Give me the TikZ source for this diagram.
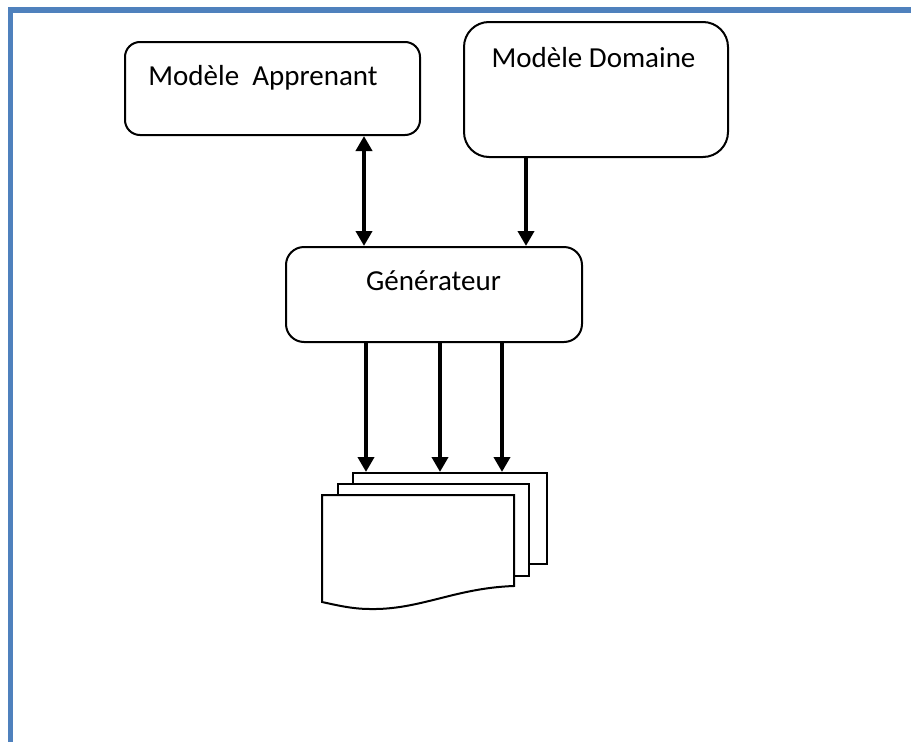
\documentclass[tikz,border=0pt]{standalone}
\usepackage{fontspec}
\setmainfont{Carlito}
\usetikzlibrary{arrows.meta}
\definecolor{frameblue}{HTML}{4F81BD}
\tikzset{
  box/.style={draw, line width=2pt, fill=white, inner sep=0pt},
  lbl/.style={anchor=base, inner sep=0pt, font=\fontsize{29}{34}\selectfont},
  page/.style={draw, line width=2pt, fill=white, inner sep=0pt, anchor=north west},
  tip/.tip={Triangle[width=16pt,length=15pt]},
  arr/.style={line width=4.5pt, -tip},
  darr/.style={line width=4.5pt, tip-tip},
}
\begin{document}
\begin{tikzpicture}[x=1pt,y=-1pt]
\useasboundingbox (0,0) rectangle (911,742);
% page frame (top and left rules)
\draw[line width=5.5pt, frameblue] (915,10) -- (10.5,10) -- (10.5,746);

% the three modules
\node[box, rounded corners=15pt, minimum width=295pt, minimum height=93pt] (app) at (272.5,88.5) {};
\node[lbl] (applbl) at (263,85) {Modèle\ \ Apprenant};
\node[box, rounded corners=25pt, minimum width=264pt, minimum height=135pt] (dom) at (596,89.5) {};
\node[lbl] (domlbl) at (593.5,67) {Modèle Domaine};
\node[box, rounded corners=18pt, minimum width=296pt, minimum height=95pt] (gen) at (434,294.5) {};
\node[lbl] (genlbl) at (433.5,290) {Générateur};

% stack of generated documents
\node[page, minimum width=194pt, minimum height=91pt] (pg3) at (352,472) {};
\node[page, minimum width=191pt, minimum height=92pt] (pg2) at (337,483) {};
\coordinate (pg1) at (322,495);
\draw[line width=2pt, fill=white] (pg1) -- (514,495) -- (514,586)
  .. controls (455,588) and (420,610) .. (370,609)
  .. controls (352,609) and (336,605) .. (322,602) -- cycle;

% connectors
\draw[darr] (app.south -| 364,0) -- (gen.north -| 364,0);
\draw[arr] (dom.south -| 526,0) -- (gen.north -| 526,0);
\draw[arr] (gen.south -| 366,0) -- (pg3.north -| 366,0);
\draw[arr] (gen.south -| 440,0) -- (pg3.north -| 440,0);
\draw[arr] (gen.south -| 502,0) -- (pg3.north -| 502,0);
\end{tikzpicture}
\end{document}
